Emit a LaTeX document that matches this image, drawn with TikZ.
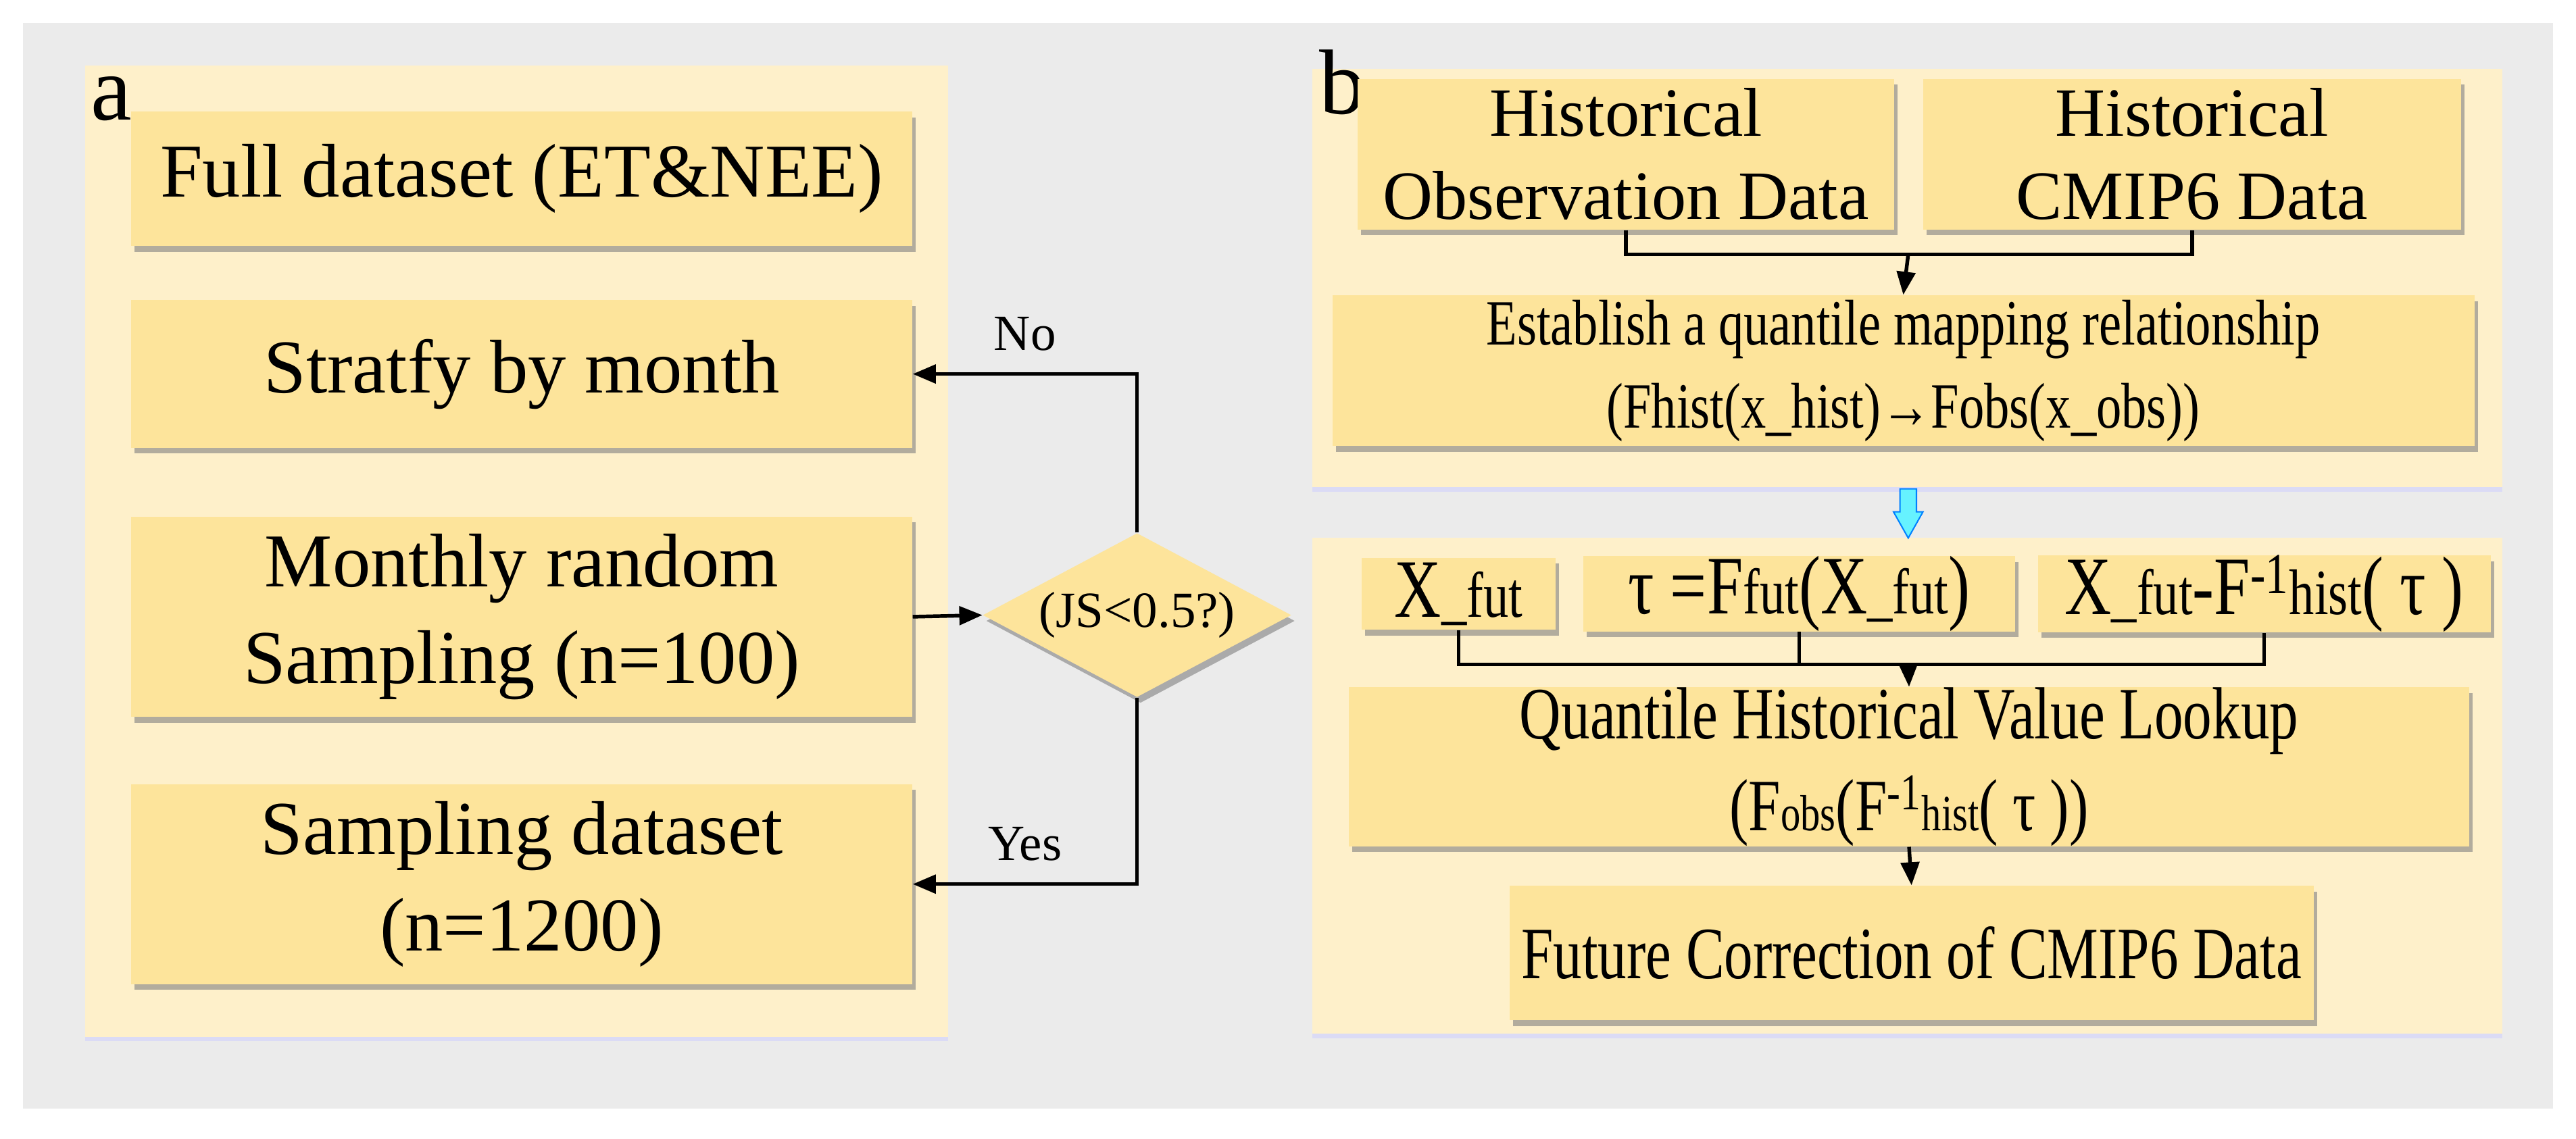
\documentclass[tikz,border=0pt]{standalone}
\usepackage{fontspec}
\setmainfont{Liberation Serif}
\newfontfamily\cond[FakeStretch=0.78]{Liberation Serif}
\usetikzlibrary{shapes.geometric,shadows,arrows.meta}
\definecolor{bgc}{HTML}{EBEBEB}
\definecolor{panelc}{HTML}{FEF0CA}
\definecolor{boxc}{HTML}{FDE49B}
\definecolor{cyanc}{HTML}{66F2FF}
\tikzset{
 box/.style={fill=boxc, inner sep=0pt, align=center, drop shadow={shadow xshift=1.5pt, shadow yshift=-2.5pt, fill=black!50, opacity=0.6}},
 panel/.style={fill=panelc, drop shadow={shadow xshift=0pt, shadow yshift=-2pt, fill=blue!20, opacity=0.5}},
 big/.style={font=\fontsize{33}{42}\selectfont},
 hbig/.style={font=\fontsize{30}{36}\selectfont},
 cbig/.style={font=\cond\fontsize{36}{38}\selectfont},
 conn/.style={line width=1.6pt},
 arr/.style={conn,-{Triangle[length=10pt,width=8pt]}}
}
\newcommand{\sml}[1]{{\fontsize{28}{28}\selectfont #1}}
\begin{document}
\begin{tikzpicture}[x=0.25mm,y=-0.25mm]
\useasboundingbox (0,0) rectangle (1570,694);
\fill[white] (0,0) rectangle (1570,694);
\fill[bgc] (14,14) rectangle (1556,676);
% panels
\path[panel] (52,40) rectangle (578,632);
\path[panel] (800,42) rectangle (1525,297);
\path[panel] (800,328) rectangle (1525,630);
\node[font=\fontsize{40}{40}\selectfont] (la) at (68,60) {a};
\node[font=\fontsize{40}{40}\selectfont] (lb) at (818,50) {b};
% panel a
\node[box,big,minimum width=119mm,minimum height=20.5mm] (full) at (318,109) {Full dataset (ET\&NEE)};
\node[box,big,minimum width=119mm,minimum height=22.5mm] (strat) at (318,228) {Stratfy by month};
\node[box,big,minimum width=119mm,minimum height=30.5mm] (month) at (318,376) {Monthly random\\Sampling (n=100)};
\node[box,big,minimum width=119mm,minimum height=30.5mm] (samp) at (318,539) {Sampling dataset\\(n=1200)};
\node[diamond,fill=boxc,aspect=1.88,inner sep=0pt,minimum width=47mm,minimum height=25mm,font=\fontsize{22}{24}\selectfont,drop shadow={shadow xshift=1.5pt, shadow yshift=-2.5pt, fill=black!50, opacity=0.6}] (js) at (693,375) {(JS<0.5?)};
\draw[arr] (month.east) -- (js.west);
\draw[arr] (js.north) |- (strat.east) node[pos=0.75,above=6pt,font=\fontsize{22}{24}\selectfont] (no) {No};
\draw[arr] (js.south) |- (samp.east) node[pos=0.75,above=6pt,font=\fontsize{22}{24}\selectfont] (yes) {Yes};
% panel b top
\node[box,hbig,minimum width=81.75mm,minimum height=23mm] (obs) at (991,94) {Historical\\Observation Data};
\node[box,hbig,minimum width=82mm,minimum height=23mm] (cmip) at (1336,94) {Historical\\CMIP6 Data};
\node[box,font=\cond\fontsize{28}{36}\selectfont,minimum width=174mm,minimum height=23mm] (est) at (1160,226) {Establish a quantile mapping relationship\\(Fhist(x\_hist)→Fobs(x\_obs))};
\coordinate (j1) at (1163,155);
\draw[conn] (obs.south) |- (j1) -| (cmip.south);
\draw[arr] (j1) -- (est.north);
% cyan arrow
\filldraw[fill=cyanc,draw=blue!50!cyan,line width=0.6pt] (1158,298) -- (1168,298) -- (1168,312) -- (1172,312) -- (1163,328) -- (1154,312) -- (1158,312) -- cycle;
% panel b bottom
\node[box,cbig,minimum width=29.5mm,minimum height=11mm] (xf) at (889,362) {X\sml{\_fut}};
\node[box,cbig,minimum width=65.75mm,minimum height=11mm] (tau) at (1096.5,362) {τ =F\sml{fut}(X\sml{\_fut})};
\node[box,cbig,minimum width=69mm,minimum height=11mm] (xfF) at (1380,362) {X\sml{\_fut}-F\textsuperscript{-1}\sml{hist}( τ )};
\coordinate (j2) at (1163,405);
\draw[conn] (xf.south) |- (j2) -| (xfF.south);
\draw[conn] (tau.south) -- (tau.south |- j2);
\node[box,font=\cond\fontsize{32}{40}\selectfont,minimum width=170.75mm,minimum height=21.25mm] (quant) at (1163.5,467.5) {Quantile Historical Value Lookup\\(F{\fontsize{22}{22}\selectfont obs}(F\textsuperscript{-1}{\fontsize{22}{22}\selectfont hist}( τ ))};
\draw[arr] (j2) -- (quant.north);
\node[box,font=\cond\fontsize{32}{36}\selectfont,minimum width=122.5mm,minimum height=20.5mm] (fut) at (1165,581) {Future Correction of CMIP6 Data};
\draw[arr] (quant.south) -- (fut.north);
\end{tikzpicture}
\end{document}
